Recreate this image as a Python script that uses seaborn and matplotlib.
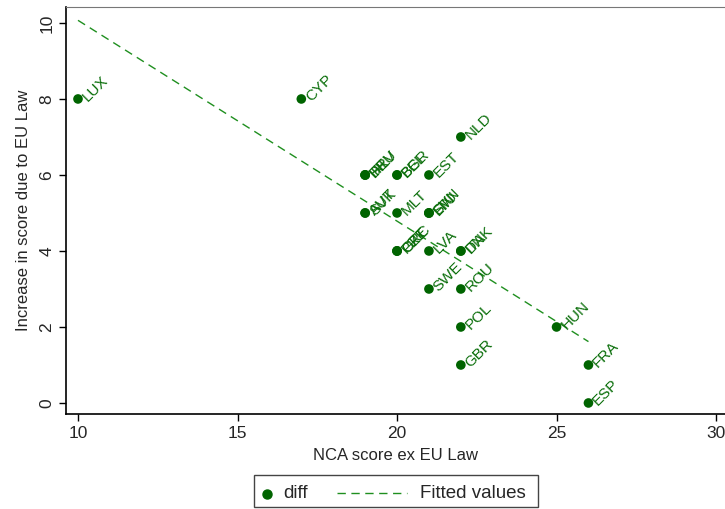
import numpy as np
import pandas as pd
import matplotlib
matplotlib.use("Agg")
import matplotlib.pyplot as plt
from matplotlib.lines import Line2D
from matplotlib.patches import Rectangle
import seaborn as sns

# data (overlapping labels guessed where unreadable)
countries = ["LUX", "CYP", "NLD", "EST", "BEL", "BGR", "DEU", "HRV", "IRL",
             "AUT", "SVK", "MLT", "SVN", "LTU", "FIN", "CZE", "PRT", "GRC",
             "LVA", "DNK", "ITA", "SWE", "ROU", "POL", "GBR", "HUN", "FRA", "ESP"]
nca_score = [10, 17, 22, 21, 20, 20, 19, 19, 19,
             19, 19, 20, 21, 21, 21, 20, 20, 20,
             21, 22, 22, 21, 22, 22, 22, 25, 26, 26]
diff = [8, 8, 7, 6, 6, 6, 6, 6, 6,
        5, 5, 5, 5, 5, 5, 4, 4, 4,
        4, 4, 4, 3, 3, 2, 1, 2, 1, 0]

df = pd.DataFrame({"country": countries, "nca": nca_score, "diff": diff})

sns.set_style("white")
plt.rcParams["font.family"] = ["Liberation Sans", "DejaVu Sans"]

dkgreen = "#006400"
fitcol = "#1f8f1f"
dash = (0, (6, 4))
W, H = 725, 509
fig = plt.figure(figsize=(W / 100, H / 100), dpi=100)
ax = fig.add_axes([66 / W, 1 - 414 / H, 1 - 66 / W, (414 - 7) / H])

sns.regplot(data=df, x="nca", y="diff", ax=ax, scatter=False, ci=None, truncate=True,
            line_kws=dict(color=fitcol, lw=1.0, ls=dash))
sns.scatterplot(data=df, x="nca", y="diff", ax=ax, color=dkgreen, s=48,
                edgecolor="none", zorder=3)

for _, r in df.iterrows():
    ax.annotate(r["country"], (r["nca"], r["diff"]), xytext=(5, 0),
                textcoords="offset points", rotation=45, rotation_mode="anchor",
                ha="left", va="center", color="#0a6e0a", fontsize=11)

ax.set_xlim(9.624, 30.28)
ax.set_ylim(-0.29, 10.42)
ax.set_xticks([10, 15, 20, 25, 30])
ax.set_yticks([0, 2, 4, 6, 8, 10])
ax.tick_params(axis="both", direction="out", length=5, width=1, color="black",
               labelsize=12.5, bottom=True, left=True)
for lbl in ax.get_yticklabels():
    lbl.set_rotation(90)
    lbl.set_va("center")
ax.set_xlabel("NCA score ex EU Law", fontsize=12, labelpad=5)
ax.set_ylabel("Increase in score due to EU Law", fontsize=12, labelpad=6)

for side in ["left", "bottom"]:
    ax.spines[side].set_color("black")
    ax.spines[side].set_linewidth(1.2)
ax.spines["top"].set_color("#777777")
ax.spines["right"].set_visible(False)

# legend box drawn by hand to match the Stata layout
def fx(px):
    return px / W

def fy(py):
    return 1 - py / H

fig.patches.append(Rectangle((fx(254), fy(507)), fx(538) - fx(254), fy(475) - fy(507),
                             transform=fig.transFigure, fill=False,
                             edgecolor="#444444", lw=1.0))
fig.lines.append(Line2D([fx(267)], [fy(494)], marker="o", color=dkgreen, ls="none",
                        markersize=6.5, transform=fig.transFigure))
fig.text(fx(283), fy(494), "diff", fontsize=13.5, va="center", ha="left")
fig.lines.append(Line2D([fx(337), fx(407)], [fy(493), fy(493)], color=fitcol,
                        lw=1.0, ls=dash, transform=fig.transFigure))
fig.text(fx(420), fy(494), "Fitted values", fontsize=13.5, va="center", ha="left")

plt.savefig("out.png", dpi=100)
